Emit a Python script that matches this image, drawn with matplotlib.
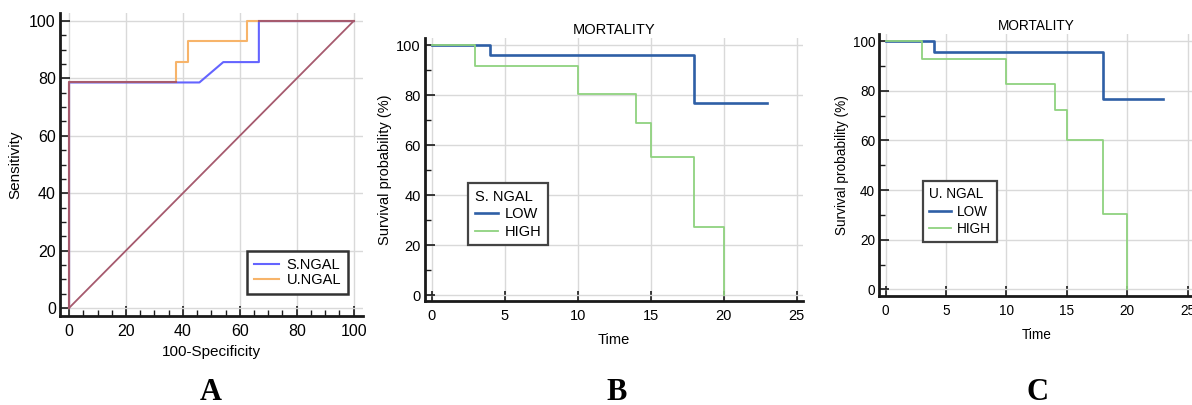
import matplotlib
matplotlib.use("Agg")
import matplotlib.pyplot as plt
from matplotlib.ticker import MultipleLocator

plt.rcParams["font.family"] = ["Liberation Sans", "DejaVu Sans"]

# ----------------------------------------------------------
# Data
# ----------------------------------------------------------
# Panel A: ROC curves (100-Specificity, Sensitivity)
s_ngal_x = [0, 0, 45.8, 54.2, 66.7, 66.7, 100]
s_ngal_y = [0, 78.6, 78.6, 85.7, 85.7, 100, 100]
u_ngal_x = [0, 0, 37.5, 37.5, 41.7, 41.7, 62.5, 62.5, 100]
u_ngal_y = [0, 78.6, 78.6, 85.7, 85.7, 92.9, 92.9, 100, 100]
shared_x = [0, 0, 37.5]
shared_y = [0, 78.6, 78.6]
shared_top_x = [66.7, 100]
shared_top_y = [100, 100]
diag = [0, 100]

# Panel B: Kaplan-Meier, serum NGAL
b_low_t = [0, 4, 18, 23]
b_low_s = [100, 96.0, 77.0, 77.0]
b_high_t = [0, 3, 10, 14, 15, 18, 20, 20]
b_high_s = [100, 91.7, 80.4, 68.8, 55.3, 27.5, 0, 0]

# Panel C: Kaplan-Meier, urine NGAL
c_low_t = [0, 4, 18, 23]
c_low_s = [100, 95.7, 76.6, 76.6]
c_high_t = [0, 3, 10, 14, 15, 18, 20, 20]
c_high_s = [100, 92.9, 82.6, 72.3, 60.3, 30.2, 0, 0]

BLUE_A = "#6464ff"
ORANGE_A = "#f7b46a"
BROWN = "#a65a6e"
BLUE_KM = "#2e5fa6"
GREEN_KM = "#8fd27f"
GRID = "#d9d9d9"


def style_axes(ax):
    for s in ["top", "right"]:
        ax.spines[s].set_visible(False)
    for s in ["left", "bottom"]:
        ax.spines[s].set_linewidth(2.0)
        ax.spines[s].set_color("#1a1a1a")
    ax.grid(True, color=GRID, linewidth=1.0)
    ax.set_axisbelow(True)
    ax.tick_params(which="both", direction="in", color="#1a1a1a")
    ax.tick_params(which="major", length=7, width=1.2)
    ax.tick_params(which="minor", length=4, width=1.0)


fig = plt.figure(figsize=(11.92, 4.05), dpi=100)

# ----------------------------------------------------------
# Panel A
# ----------------------------------------------------------
axA = fig.add_axes([0.0503, 0.2198, 0.254, 0.748])
style_axes(axA)
axA.plot(s_ngal_x, s_ngal_y, color=BLUE_A, lw=1.5, label="S.NGAL")
axA.plot(u_ngal_x, u_ngal_y, color=ORANGE_A, lw=1.5, label="U.NGAL")
axA.plot(shared_x, shared_y, color=BROWN, lw=1.5)
axA.plot(shared_top_x, shared_top_y, color=BROWN, lw=1.5)
axA.plot(diag, diag, color=BROWN, lw=1.3)
axA.set_xlim(-3.2, 103.2)
axA.set_ylim(-2.8, 102.8)
axA.xaxis.set_major_locator(MultipleLocator(20))
axA.yaxis.set_major_locator(MultipleLocator(20))
axA.xaxis.set_minor_locator(MultipleLocator(5))
axA.yaxis.set_minor_locator(MultipleLocator(5))
axA.tick_params(labelsize=11.5)
axA.tick_params(axis="y", pad=3)
axA.tick_params(axis="x", pad=6)
axA.set_xlabel("100-Specificity", fontsize=11, labelpad=4)
axA.set_ylabel("Sensitivity", fontsize=11, labelpad=5)
legA = axA.legend(loc="lower right", bbox_to_anchor=(0.95, 0.073), fontsize=10.5,
                  fancybox=False, handlelength=1.7, borderpad=0.45,
                  labelspacing=0.1, handletextpad=0.55, borderaxespad=0)
legA.get_frame().set_edgecolor("#333333")
legA.get_frame().set_linewidth(1.8)
legA.get_frame().set_alpha(1)

# ----------------------------------------------------------
# Kaplan-Meier panels
# ----------------------------------------------------------
def km_panel(rect, xlim, ylim, low_t, low_s, high_t, high_s, group,
             legend_anchor, fs):
    ax = fig.add_axes(rect)
    style_axes(ax)
    ax.step(low_t, low_s, where="post", color=BLUE_KM, lw=1.9, label="LOW")
    ax.step(high_t, high_s, where="post", color=GREEN_KM, lw=1.3, label="HIGH")
    ax.set_xlim(*xlim)
    ax.set_ylim(*ylim)
    ax.xaxis.set_major_locator(MultipleLocator(5))
    ax.yaxis.set_major_locator(MultipleLocator(20))
    ax.yaxis.set_minor_locator(MultipleLocator(10))
    ax.tick_params(labelsize=fs)
    ax.tick_params(axis="y", pad=3)
    ax.tick_params(axis="x", pad=6)
    ax.set_title("MORTALITY", fontsize=fs, pad=3)
    ax.set_xlabel("Time", fontsize=fs, labelpad=7)
    ax.set_ylabel("Survival probability (%)", fontsize=fs, labelpad=3)
    leg = ax.legend(loc="upper left", bbox_to_anchor=legend_anchor, title=group,
                    fontsize=fs, title_fontsize=fs, fancybox=False,
                    handlelength=1.6, labelspacing=0.25, borderpad=0.45,
                    handletextpad=0.45, borderaxespad=0)
    leg._legend_box.align = "left"
    leg.get_frame().set_edgecolor("#444444")
    leg.get_frame().set_linewidth(1.6)
    leg.get_frame().set_alpha(1)
    return ax


axB = km_panel([0.3565, 0.2568, 0.317, 0.649], (-0.46, 25.43), (-2.28, 102.9),
               b_low_t, b_low_s, b_high_t, b_high_s, "S. NGAL", (0.114, 0.449), 10.5)

axC = km_panel([0.7377, 0.269, 0.2636, 0.647], (-0.53, 25.5), (-2.7, 102.9),
               c_low_t, c_low_s, c_high_t, c_high_s, "U. NGAL", (0.138, 0.439), 9.8)

# ----------------------------------------------------------
# Panel letters
# ----------------------------------------------------------
for x, letter in [(0.177, "A"), (0.517, "B"), (0.87, "C")]:
    fig.text(x, 0.032, letter, fontsize=22, fontweight="bold",
             family=["Liberation Serif", "DejaVu Serif"], ha="center", va="center")

fig.savefig("out.png", dpi=100)
